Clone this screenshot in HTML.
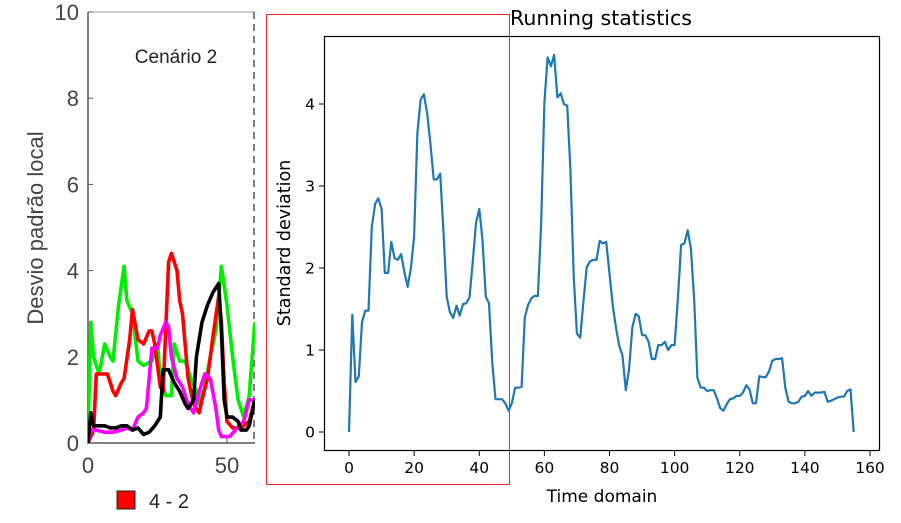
<!DOCTYPE html>
<html><head><meta charset="utf-8"><style>
html,body{margin:0;padding:0;background:#fff;}
svg{display:block;font-family:"Liberation Sans","DejaVu Sans",sans-serif;}
</style></head><body>
<svg id="c" width="901" height="523" viewBox="0 0 901 523">
<g id="left"></g>
<g id="right" style="font-family:'DejaVu Sans',sans-serif"></g>
<rect x="266.5" y="14.5" width="243" height="470" fill="none" stroke="#e8282a" stroke-width="1"/>
</svg>
<script>
// ---- right chart data ----
const rightYTicks = [0, 1, 2, 3, 4];
const rightXTicks = [0, 20, 40, 60, 80, 100, 120, 140, 160];
const sdValues = [0,1.43,0.61,0.68,1.34,1.48,1.48,2.5,2.78,2.85,2.72,1.94,1.94,2.32,2.12,2.1,2.17,1.95,1.77,2.0,
2.38,3.65,4.05,4.12,3.88,3.52,3.08,3.08,3.15,2.46,1.65,1.46,1.39,1.54,1.42,1.56,1.57,1.64,2.07,2.55,
2.72,2.34,1.65,1.57,0.84,0.4,0.4,0.4,0.35,0.26,0.35,0.54,0.54,0.55,1.4,1.55,1.63,1.66,1.66,2.52,
4.02,4.57,4.46,4.6,4.08,4.13,4.0,3.98,3.2,1.9,1.2,1.15,1.6,2.01,2.08,2.1,2.1,2.33,2.3,2.32,
1.93,1.54,1.27,1.05,0.93,0.51,0.76,1.27,1.44,1.41,1.18,1.18,1.1,0.89,0.89,1.06,1.06,1.1,1.0,1.06,
1.06,1.63,2.28,2.3,2.46,2.24,1.61,0.66,0.54,0.54,0.5,0.51,0.51,0.41,0.29,0.26,0.34,0.4,0.41,0.44,
0.44,0.48,0.57,0.52,0.35,0.35,0.68,0.67,0.67,0.74,0.87,0.89,0.89,0.9,0.54,0.37,0.35,0.35,0.37,0.43,
0.44,0.5,0.44,0.48,0.48,0.48,0.49,0.37,0.38,0.4,0.42,0.43,0.43,0.5,0.52,0];

// ---- left chart data ----
const leftYTicks = [0, 2, 4, 6, 8, 10];
const leftXTicks = [0, 50];
const greenX = [0,1,2,4,6,8,9,11,13,14,16,18,20,23,25,26,28,30,31,33,35,37,39,40,42,44,46,48,50,52,54,56,58,60];
const greenY = [0.2,2.8,2.0,1.6,2.3,2.0,1.9,3.2,4.1,3.3,3.0,1.9,1.8,1.9,2.3,1.5,1.1,1.1,2.3,1.9,1.9,1.5,1.2,0.9,1.3,2.0,2.6,4.1,3.2,2.0,1.0,0.6,1.1,2.8];
const redX = [0,2,3,5,7,9,10,12,13,15,16,18,20,22,23,24,26,27,29,30,32,33,34,36,38,40,41,43,45,47,48,49,50,52,55,58,60];
const redY = [0,0.3,1.6,1.6,1.6,1.2,1.1,1.4,1.5,2.4,3.1,2.4,2.3,2.6,2.6,2.3,1.3,1.2,4.2,4.4,4.0,3.3,3.0,1.5,0.9,0.7,1.0,1.5,2.5,3.4,2.8,1.4,0.5,0.35,0.35,0.5,1.0];
const magentaX = [0,1,3,6,9,12,14,16,18,20,21,23,25,26,28,29,30,32,34,36,38,40,42,44,46,47,48,51,53,56,58,60];
const magentaY = [0,0.3,0.3,0.25,0.25,0.3,0.35,0.3,0.6,0.7,0.8,2.2,2.2,2.5,2.8,2.7,2.0,1.5,1.3,0.9,0.7,1.2,1.6,1.5,0.8,0.3,0.15,0.15,0.3,0.5,1.0,1.0];
const blackX = [0,1,2,4,6,8,10,12,14,16,18,20,22,24,26,27,29,31,33,35,36,38,39,41,43,45,47,48,49,50,52,54,55,57,58,60];
const blackY = [0,0.7,0.4,0.4,0.4,0.35,0.35,0.4,0.4,0.3,0.35,0.2,0.25,0.4,0.6,1.7,1.7,1.4,1.2,0.9,0.8,1.0,2.0,2.8,3.2,3.5,3.7,2.6,1.0,0.6,0.6,0.5,0.3,0.3,0.4,1.0];

const NS = "http://www.w3.org/2000/svg";
function mk(parent, tag, attrs, text){
  const e = document.createElementNS(NS, tag);
  for (const k in attrs) e.setAttribute(k, attrs[k]);
  if (text !== undefined) e.textContent = text;
  parent.appendChild(e);
  return e;
}

// ===== right chart =====
(function(){
  const g = document.getElementById('right');
  const L=324,R=880,T=36,B=451;
  const xs = v => 349 + v*3.2563;
  const ys = v => 432 - v*82;
  let d = sdValues.map((v,i)=>(i?'L':'M')+xs(i).toFixed(1)+','+ys(v).toFixed(1)).join('');
  const p = mk(g,'path',{d:d,fill:'none',stroke:'#1f77b4','stroke-width':2.2,'stroke-linejoin':'round'});
  
  
  const frame = mk(g,'rect',{x:L+0.5,y:T+0.5,width:R-L-1,height:B-T-1,fill:'none',stroke:'#000','stroke-width':1.2});
  
  
  rightYTicks.forEach(t=>{
    const y = ys(t);
    const tk = mk(g,'line',{x1:L-5,x2:L,y1:y,y2:y,stroke:'#000','stroke-width':1});
    
    
    const lb = mk(g,'text',{x:L-9,y:y+5.5,'text-anchor':'end','font-size':15.5,fill:'#000'},String(t));
    
    
  });
  rightXTicks.forEach(t=>{
    const x = xs(t);
    const tk = mk(g,'line',{x1:x,x2:x,y1:B,y2:B+5,stroke:'#000','stroke-width':1});
    
    
    const lb = mk(g,'text',{x:x,y:B+22,'text-anchor':'middle','font-size':15.5,fill:'#000'},String(t));
    
    
  });
  const ti = mk(g,'text',{x:510,y:25,'text-anchor':'start','font-size':20.5,fill:'#000'},'Running statistics');
  
  
  const xl = mk(g,'text',{x:602,y:502,'text-anchor':'middle','font-size':17,fill:'#000'},'Time domain');
  
  
  const yl = mk(g,'text',{x:0,y:0,'text-anchor':'middle','font-size':17.5,fill:'#000',transform:'translate(290,243) rotate(-90)'},'Standard deviation');
  
  
})();

// ===== left panel =====
(function(){
  const g = document.getElementById('left');
  const L=88,R=255,T=12,B=443;
  const xs = v => L + v*2.78;
  const ys = v => B - v*43.1;
  mk(g,'defs',{}).innerHTML='<clipPath id="lc"><rect x="'+L+'" y="'+(T-10)+'" width="'+(R-L)+'" height="'+(B-T+10)+'"/></clipPath>';
  const ax = mk(g,'path',{d:'M'+L+','+T+'V'+B+'H'+R,fill:'none',stroke:'#555','stroke-width':1.5});
  
  
  const top = mk(g,'line',{x1:L,x2:R,y1:T,y2:T,stroke:'#999','stroke-width':1});
  
  
  const dash = mk(g,'line',{x1:254,x2:254,y1:T,y2:B,stroke:'#555','stroke-width':1.5,'stroke-dasharray':'7,5'});
  
  
  leftYTicks.forEach(t=>{
    const y = ys(t);
    const tk = mk(g,'line',{x1:L,x2:L+5,y1:y,y2:y,stroke:'#555','stroke-width':1});
    
    
    const lb = mk(g,'text',{x:L-9,y:y+8,'text-anchor':'end','font-size':22,fill:'#444'},String(t));
    
    
  });
  leftXTicks.forEach(t=>{
    const x = xs(t);
    const tk = mk(g,'line',{x1:x,x2:x,y1:B-5,y2:B,stroke:'#555','stroke-width':1});
    
    
    const lb = mk(g,'text',{x:x,y:B+30,'text-anchor':'middle','font-size':22,fill:'#444'},String(t));
    
    
  });
  const series = [[greenX,greenY,'#00ee00','green-series'],[redX,redY,'#ff0000','red-series'],[magentaX,magentaY,'#ff00ff','magenta-series'],[blackX,blackY,'#000000','black-series']];
  series.forEach(s=>{
    const d = s[0].map((x,i)=>(i?'L':'M')+xs(x).toFixed(1)+','+ys(s[1][i]).toFixed(1)).join('');
    const p = mk(g,'path',{d:d,fill:'none',stroke:s[2],'stroke-width':3.6,'stroke-linejoin':'round','clip-path':'url(#lc)'});
    
    
  });
  const ct = mk(g,'text',{x:176,y:63,'text-anchor':'middle','font-size':19,fill:'#222'},'Cenário 2');
  
  
  const yl = mk(g,'text',{x:0,y:0,'text-anchor':'middle','font-size':22,fill:'#444',transform:'translate(43,228) rotate(-90)'},'Desvio padrão local');
  
  
  const sw = mk(g,'rect',{x:117,y:491,width:18,height:18,fill:'#ff0000',stroke:'#222','stroke-width':1});
  
  
  const lt = mk(g,'text',{x:149,y:508,'font-size':20,fill:'#222'},'4 - 2');
  
  
})();
</script>
</body></html>
